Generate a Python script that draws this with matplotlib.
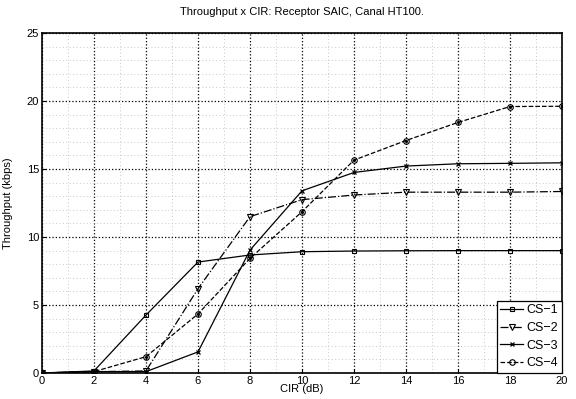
import numpy as np
import matplotlib.pyplot as plt
from matplotlib.ticker import MultipleLocator

plt.rcParams['font.family'] = ['Liberation Sans', 'DejaVu Sans']

cir = [0, 2, 4, 6, 8, 10, 12, 14, 16, 18, 20]
cs1 = [0.0, 0.15, 4.26, 8.16, 8.68, 8.92, 8.97, 8.99, 9.0, 9.0, 9.0]
cs2 = [0.0, 0.1, 0.15, 6.2, 11.5, 12.75, 13.09, 13.3, 13.3, 13.3, 13.35]
cs3 = [0.0, 0.1, 0.1, 1.55, 9.04, 13.4, 14.75, 15.22, 15.39, 15.42, 15.46]
cs4 = [0.0, 0.1, 1.2, 4.34, 8.43, 11.86, 15.66, 17.1, 18.43, 19.6, 19.62]
labels = ['CS\u22121', 'CS\u22122', 'CS\u22123', 'CS\u22124']

fig = plt.figure(figsize=(5.76, 3.99), dpi=100)
ax = fig.add_axes([0.0729, 0.0652, 0.9028, 0.8518])

ax.plot(cir, cs1, '-', color='k', lw=0.9, marker='s', ms=3.5, mfc='none', mew=0.8, label=labels[0])
ax.plot(cir, cs2, '-.', color='k', lw=0.9, marker='v', ms=4, mfc='none', mew=0.8, label=labels[1])
ax.plot(cir, cs3, '-', color='k', lw=0.9, marker='x', ms=3, mew=0.9, label=labels[2])
ax.plot(cir, cs4, '--', color='k', lw=0.9, marker='o', ms=4, mfc='none', mew=0.8, label=labels[3])
ax.plot(cir, cs4, ' ', color='k', marker='.', ms=2.5)

ax.set_xlim(0, 20)
ax.set_ylim(0, 25)
ax.xaxis.set_major_locator(MultipleLocator(2))
ax.yaxis.set_major_locator(MultipleLocator(5))
ax.xaxis.set_minor_locator(MultipleLocator(1))
ax.yaxis.set_minor_locator(MultipleLocator(1))
ax.grid(which='major', color='k', ls=':', lw=0.9)
ax.grid(which='minor', color='#c8c8c8', ls=(0, (1, 2.5)), lw=0.7)
ax.tick_params(which='both', direction='in', labelsize=8, pad=2, length=3)
ax.tick_params(which='minor', length=0)
for s in ax.spines.values():
    s.set_linewidth(1.2)

ax.set_xlabel('CIR (dB)', fontsize=8, labelpad=-1)
ax.set_ylabel('Throughput (kbps)', fontsize=8, labelpad=10)
ax.set_title('Throughput x CIR: Receptor SAIC, Canal HT100.', fontsize=8, pad=13)

leg = ax.legend(loc='lower right', fontsize=9, fancybox=False, framealpha=1,
                edgecolor='k', handlelength=1.8, handletextpad=0.3,
                borderpad=0.3, labelspacing=0.45, borderaxespad=0.0)
leg.get_frame().set_linewidth(0.9)

fig.savefig('out.png', dpi=100)
